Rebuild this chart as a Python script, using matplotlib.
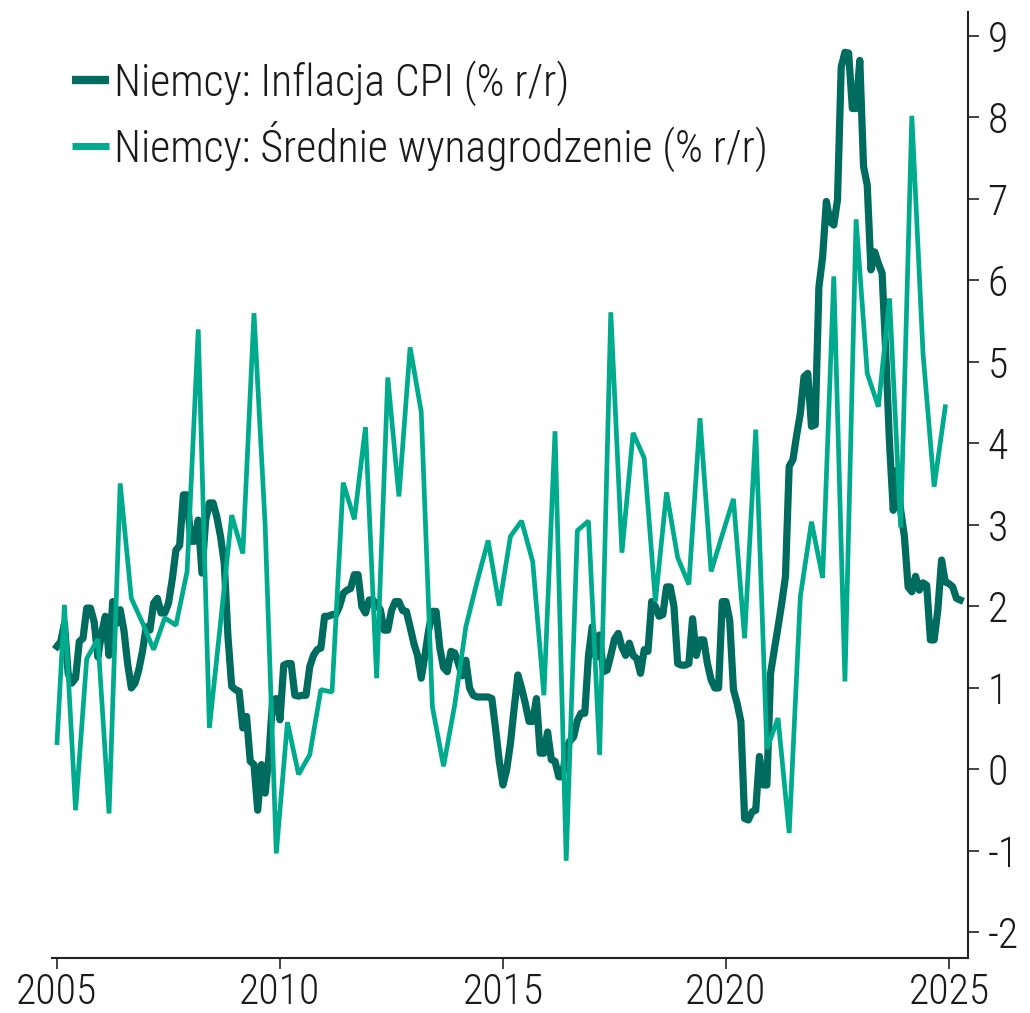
import numpy as np
import pandas as pd
import matplotlib
matplotlib.use("Agg")
import matplotlib.pyplot as plt
from matplotlib import font_manager as fm
from matplotlib.lines import Line2D

# ---------------- data ----------------
cpi_start = "2005-01"
cpi_values = [
    1.51, 1.57, 1.79, 1.18, 1.06, 1.12, 1.57, 1.61, 1.98, 1.98, 1.81, 1.38,   # 2005
    1.67, 1.88, 1.40, 2.06, 1.79, 1.96, 1.71, 1.30, 1.00, 1.06, 1.22, 1.45,   # 2006
    1.75, 1.71, 2.04, 2.10, 1.92, 1.92, 2.04, 2.33, 2.69, 2.75, 3.37, 3.37,   # 2007
    2.80, 2.80, 3.06, 2.41, 3.06, 3.27, 3.27, 3.10, 2.86, 2.53, 1.63, 1.02,   # 2008
    0.98, 0.96, 0.51, 0.65, 0.10, 0.06, -0.50, 0.06, -0.29, 0.15, 0.85, 0.87, # 2009
    0.61, 1.28, 1.30, 1.30, 0.91, 0.90, 0.91, 0.91, 1.26, 1.40, 1.47, 1.49,   # 2010
    1.88, 1.88, 1.90, 1.90, 2.00, 2.16, 2.20, 2.22, 2.39, 2.39, 2.00, 1.92,   # 2011
    2.08, 2.08, 2.02, 1.96, 1.71, 1.71, 1.95, 2.06, 2.06, 1.95, 1.94, 1.75,   # 2012
    1.55, 1.40, 1.12, 1.40, 1.71, 1.94, 1.94, 1.49, 1.25, 1.20, 1.45, 1.43,   # 2013
    1.30, 1.15, 1.34, 1.00, 0.91, 0.89, 0.89, 0.89, 0.89, 0.87, 0.50, 0.10,   # 2014
    -0.19, 0.00, 0.32, 0.75, 1.16, 1.00, 0.81, 0.59, 0.59, 0.87, 0.20, 0.20,  # 2015
    0.46, 0.12, 0.10, -0.09, -0.09, 0.25, 0.35, 0.40, 0.60, 0.69, 0.69, 1.40, # 2016
    1.75, 1.38, 1.65, 1.20, 1.22, 1.40, 1.60, 1.67, 1.50, 1.40, 1.55, 1.40,   # 2017
    1.36, 1.18, 1.47, 1.45, 2.06, 2.00, 1.88, 1.90, 2.24, 2.24, 2.00, 1.30,   # 2018
    1.28, 1.28, 1.30, 1.85, 1.40, 1.59, 1.59, 1.30, 1.10, 1.00, 1.00, 2.06,   # 2019
    2.06, 1.83, 0.98, 0.81, 0.59, -0.60, -0.62, -0.52, -0.50, 0.16, -0.19, -0.19,  # 2020
    1.18, 1.47, 1.75, 2.04, 2.37, 3.72, 3.80, 4.10, 4.37, 4.82, 4.86, 4.21,   # 2021
    4.23, 5.92, 6.29, 6.97, 6.72, 6.68, 6.99, 8.62, 8.80, 8.79, 8.11, 8.11,   # 2022
    8.70, 7.40, 7.17, 6.13, 6.35, 6.21, 6.09, 5.10, 4.00, 3.18, 3.67, 3.18,   # 2023
    2.86, 2.24, 2.18, 2.37, 2.20, 2.29, 2.26, 1.59, 1.59, 1.96, 2.57, 2.30,   # 2024
    2.28, 2.24, 2.10, 2.08,                                                   # 2025
]

wage_first_date = "2005-01"
wage_quarter_start = "2005-03"
wage_quarter_end = "2024-12"
wage_values = [
    0.33,
    2.02, -0.50, 1.36, 1.60,    # 2005
    -0.54, 3.51, 2.10, 1.80,    # 2006
    1.47, 1.86, 1.77, 2.43,     # 2007
    5.40, 0.51, 1.80, 3.12,     # 2008
    2.65, 5.60, 3.00, -1.03,    # 2009
    0.58, -0.06, 0.18, 0.98,    # 2010
    0.95, 3.52, 3.07, 4.20,     # 2011
    1.12, 4.81, 3.35, 5.18,     # 2012
    4.39, 0.77, 0.04, 0.79,     # 2013
    1.75, 2.30, 2.81, 2.01,     # 2014
    2.86, 3.05, 2.55, 0.91,     # 2015
    4.15, -1.12, 2.93, 3.05,    # 2016
    0.18, 5.61, 2.66, 4.13,     # 2017
    3.82, 2.06, 3.40, 2.60,     # 2018
    2.27, 4.31, 2.43, 2.88,     # 2019
    3.32, 1.61, 4.17, 0.25,     # 2020
    0.63, -0.78, 2.12, 3.04,    # 2021
    2.35, 6.05, 1.08, 6.75,     # 2022
    4.86, 4.45, 5.78, 2.97,     # 2023
    8.02, 5.11, 3.47, 4.45,     # 2024
]

label_cpi = "Niemcy: Inflacja CPI (% r/r)"
label_wage = "Niemcy: Średnie wynagrodzenie (% r/r)"
x_ticks = [2005, 2010, 2015, 2020, 2025]
y_ticks = [-2, -1, 0, 1, 2, 3, 4, 5, 6, 7, 8, 9]
y_ticklabels = ["-2", "-1", "0", "1", "2", "3", "4", "5", "6", "7", "8", "9"]

# ---------------- styling ----------------
C_CPI = "#006B5F"
C_WAGE = "#00AA8C"
C_TEXT = "#1a1a1a"
C_AXIS = "#222222"


def pick_font():
    entries = fm.fontManager.ttflist
    names = {e.name for e in entries}
    if "Roboto Condensed" in names:
        return "Roboto Condensed", "normal"
    if any(e.name == "DejaVu Sans" and "condensed" in str(e.stretch).lower() for e in entries):
        return "DejaVu Sans", "condensed"
    return "DejaVu Sans", "normal"


FAM, STRETCH = pick_font()
WEIGHT = 300


def to_decimal_year(dates):
    return np.array([d.year + (d.month - 1) / 12.0 for d in dates])


cpi_dates = pd.date_range(cpi_start, periods=len(cpi_values), freq="MS")
wage_dates = [pd.Timestamp(wage_first_date)] + list(
    pd.date_range(wage_quarter_start, wage_quarter_end, freq="3MS"))
cpi_x = to_decimal_year(cpi_dates)
wage_x = to_decimal_year(wage_dates)

W, H = 1030, 1013
fig = plt.figure(figsize=(W / 100, H / 100), dpi=100)
fig.patch.set_facecolor("white")

renderer = fig.canvas.get_renderer()
probe = fig.text(0, 0, label_cpi, fontsize=20, family=FAM, fontstretch=STRETCH,
                 fontweight=WEIGHT)
wpx = probe.get_window_extent(renderer).width
probe.remove()
FS = 20 * 455.0 / wpx

ax_l, ax_r, ax_b, ax_t = 52, 968, 958, 12
ax = fig.add_axes([ax_l / W, 1 - ax_b / H, (ax_r - ax_l) / W, (ax_b - ax_t) / H])

ax.plot(cpi_x, cpi_values, color=C_CPI, lw=5.2, solid_joinstyle="round", zorder=3)
ax.plot(wage_x, wage_values, color=C_WAGE, lw=3.4, solid_joinstyle="bevel", zorder=4)

ax.set_xlim(2004.888, 2025.426)
ax.set_ylim(-2.313, 9.294)

for s in ("left", "top"):
    ax.spines[s].set_visible(False)
for s in ("right", "bottom"):
    ax.spines[s].set_color(C_AXIS)
    ax.spines[s].set_linewidth(1.5)

ax.yaxis.tick_right()
ax.set_yticks(y_ticks)
ax.set_yticklabels(y_ticklabels)
ax.set_xticks(x_ticks)
ax.set_xticklabels([str(v) for v in x_ticks])
ax.tick_params(axis="both", direction="out", length=8, width=1.2, color=C_AXIS,
               labelcolor=C_TEXT, labelsize=FS * 0.95)
ax.tick_params(axis="y", pad=6)
ax.tick_params(axis="x", pad=2)
for lab in ax.get_xticklabels() + ax.get_yticklabels():
    lab.set_family(FAM)
    lab.set_fontstretch(STRETCH)
    lab.set_fontweight(WEIGHT)

handles = [Line2D([], [], color=C_CPI, lw=6.0, solid_capstyle="butt"),
           Line2D([], [], color=C_WAGE, lw=5.0, solid_capstyle="butt")]
prop = fm.FontProperties(family=FAM, stretch=STRETCH, size=FS, weight=WEIGHT)
leg = ax.legend(handles, [label_cpi, label_wage], loc="upper left",
                bbox_to_anchor=(72 / W, 1 - 60 / H), bbox_transform=fig.transFigure,
                frameon=False, borderpad=0, borderaxespad=0, handlelength=0.85,
                handletextpad=0.12, labelspacing=0.34, prop=prop)
for t in leg.get_texts():
    t.set_color(C_TEXT)

fig.savefig("out.png", dpi=100, facecolor="white")
